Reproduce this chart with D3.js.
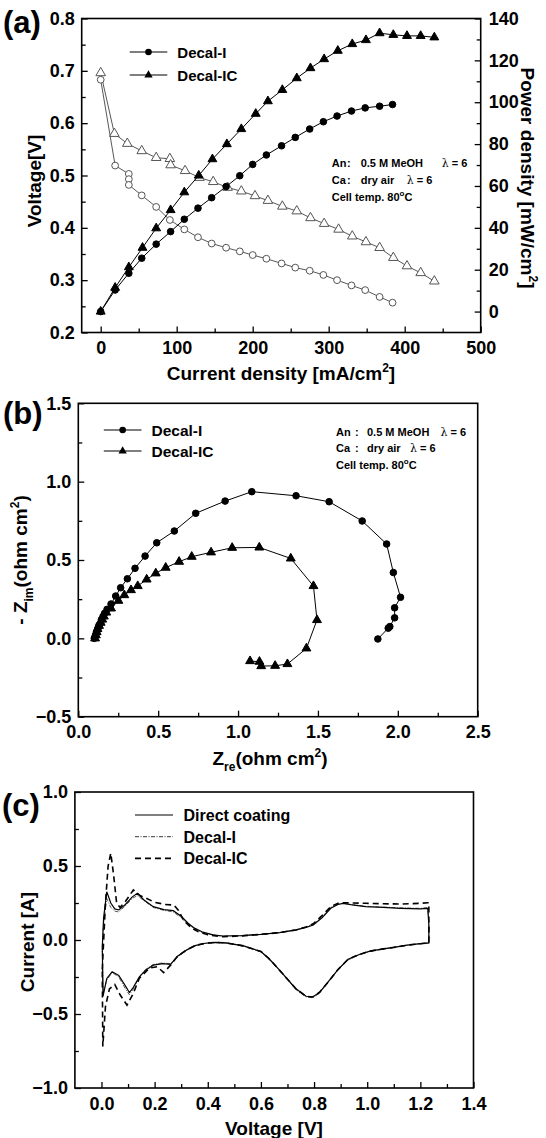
<!DOCTYPE html>
<html>
<head>
<meta charset="utf-8">
<script src="https://cdn.jsdelivr.net/npm/d3@7"></script>
<style>
  body { margin: 0; background: #fff; }
  svg { display: block; }
</style>
</head>
<body>
<div id="fig"></div>
<script>
// ---------- (a) polarization data ----------
const icCurrent = [0, 19, 37, 55, 73, 92, 110, 129, 147, 166, 185, 204, 220, 239, 258, 276, 294, 312, 331, 349, 367, 385, 403, 421, 439];
const icPower = [0, 11.4, 21.2, 30.5, 39.8, 48.5, 57, 65, 72.8, 80, 87.2, 94.5, 100.5, 105.9, 111.5, 116.3, 120.6, 124.6, 127.8, 129.7, 133, 132.2, 131.7, 131.7, 131];
const icVoltCurrent = [0, 18, 35, 54, 73, 91, 92, 111, 130, 148, 167, 185, 203, 220, 239, 258, 276, 294, 313, 331, 349, 367, 385, 403, 421, 439];
const icVoltage = [0.696, 0.580, 0.561, 0.547, 0.534, 0.532, 0.520, 0.509, 0.496, 0.488, 0.477, 0.470, 0.461, 0.452, 0.441, 0.432, 0.419, 0.408, 0.397, 0.384, 0.373, 0.362, 0.343, 0.327, 0.314, 0.298];

const diCurrent = [0, 19, 37, 54, 73, 92, 110, 128, 146, 165, 183, 200, 218, 238, 256, 275, 293, 311, 330, 348, 367, 384];
const diPower = [0, 10.3, 18.3, 25.5, 32.2, 38.2, 44.1, 49.4, 54.4, 59.7, 64.9, 70.3, 74.8, 79.2, 83.2, 87.2, 90.7, 93.4, 95.8, 97.3, 98.1, 98.9];
const diVoltCurrent = [0, 19, 37, 37, 37, 54, 73, 91, 110, 128, 146, 165, 183, 200, 218, 238, 256, 275, 293, 311, 330, 348, 367, 384];
const diVoltage = [0.683, 0.519, 0.503, 0.493, 0.482, 0.462, 0.440, 0.415, 0.397, 0.382, 0.370, 0.362, 0.355, 0.348, 0.341, 0.332, 0.324, 0.318, 0.310, 0.300, 0.290, 0.281, 0.268, 0.257];

// ---------- (b) impedance data ----------
const diZre = [0.100, 0.105, 0.110, 0.115, 0.120, 0.125, 0.130, 0.140, 0.145, 0.155, 0.165, 0.180, 0.205, 0.234, 0.265, 0.307, 0.355, 0.418, 0.491, 0.601, 0.735, 0.919, 1.086, 1.363, 1.570, 1.777, 1.930, 1.972, 2.017, 1.980, 1.980, 1.950, 1.940, 1.875];
const diZim = [0.000, 0.010, 0.025, 0.040, 0.055, 0.070, 0.085, 0.100, 0.120, 0.140, 0.160, 0.185, 0.219, 0.270, 0.323, 0.380, 0.447, 0.525, 0.610, 0.685, 0.798, 0.876, 0.936, 0.910, 0.872, 0.749, 0.602, 0.420, 0.262, 0.195, 0.131, 0.075, 0.065, -0.004];
const icZre = [0.105, 0.110, 0.115, 0.120, 0.130, 0.140, 0.150, 0.160, 0.175, 0.205, 0.251, 0.288, 0.330, 0.372, 0.428, 0.485, 0.547, 0.631, 0.710, 0.831, 0.963, 1.133, 1.330, 1.472, 1.494, 1.428, 1.309, 1.232, 1.145, 1.134, 1.075];
const icZim = [0.000, 0.020, 0.040, 0.060, 0.080, 0.100, 0.120, 0.140, 0.165, 0.191, 0.240, 0.276, 0.308, 0.334, 0.376, 0.415, 0.451, 0.489, 0.521, 0.549, 0.578, 0.580, 0.510, 0.334, 0.117, -0.064, -0.164, -0.175, -0.177, -0.149, -0.145];

// ---------- (c) cyclic voltammetry data ----------
const cvUpV = [0.003, 0.008, 0.02, 0.035, 0.05, 0.065, 0.09, 0.115, 0.135, 0.16, 0.195, 0.235, 0.27, 0.3, 0.326, 0.35, 0.378, 0.42, 0.457, 0.53, 0.6, 0.67, 0.732, 0.77, 0.797, 0.83, 0.863, 0.89, 0.909, 0.95, 0.994, 1.06, 1.125, 1.2, 1.228];
const cvDownV = [1.232, 1.232, 1.2, 1.15, 1.1, 1.06, 1.01, 0.97, 0.928, 0.89, 0.85, 0.82, 0.795, 0.77, 0.732, 0.7, 0.666, 0.63, 0.6, 0.535, 0.47, 0.43, 0.39, 0.352, 0.32, 0.286, 0.26, 0.23, 0.195, 0.165, 0.142, 0.12, 0.105, 0.09, 0.065, 0.04, 0.02, 0.006, 0.003];
const directUpI = [-0.05, 0.15, 0.326, 0.25, 0.21, 0.203, 0.24, 0.29, 0.315, 0.27, 0.225, 0.205, 0.198, 0.16, 0.113, 0.08, 0.056, 0.035, 0.027, 0.03, 0.038, 0.05, 0.068, 0.085, 0.101, 0.15, 0.214, 0.24, 0.248, 0.235, 0.225, 0.22, 0.214, 0.21, 0.214];
const directDownI = [0.1, -0.02, -0.025, -0.035, -0.05, -0.06, -0.075, -0.098, -0.13, -0.2, -0.29, -0.355, -0.385, -0.38, -0.33, -0.265, -0.195, -0.125, -0.078, -0.04, -0.02, -0.016, -0.022, -0.038, -0.068, -0.11, -0.165, -0.16, -0.17, -0.205, -0.25, -0.32, -0.355, -0.31, -0.24, -0.215, -0.26, -0.38, -0.05];
const decalIUpI = [-0.05, 0.12, 0.28, 0.22, 0.195, 0.19, 0.23, 0.28, 0.30, 0.265, 0.22, 0.2, 0.19, 0.15, 0.105, 0.075, 0.052, 0.033, 0.026, 0.03, 0.038, 0.05, 0.068, 0.088, 0.105, 0.155, 0.22, 0.242, 0.248, 0.238, 0.228, 0.222, 0.218, 0.214, 0.22];
const decalIDownI = [0.1, -0.02, -0.025, -0.035, -0.05, -0.062, -0.078, -0.1, -0.135, -0.2, -0.29, -0.36, -0.39, -0.385, -0.335, -0.27, -0.2, -0.13, -0.08, -0.042, -0.022, -0.018, -0.024, -0.04, -0.07, -0.115, -0.16, -0.155, -0.165, -0.2, -0.25, -0.33, -0.37, -0.33, -0.25, -0.22, -0.27, -0.36, -0.05];
const icUpV = [0.003, 0.015, 0.025, 0.035, 0.045, 0.057, 0.07, 0.09, 0.12, 0.145, 0.168, 0.2, 0.24, 0.273, 0.29, 0.31, 0.34, 0.365, 0.4, 0.457, 0.53, 0.6, 0.67, 0.732, 0.77, 0.797, 0.83, 0.863, 0.89, 0.909, 0.95, 0.994, 1.06, 1.125, 1.2, 1.228];
const icUpI = [-0.2, 0.25, 0.5, 0.586, 0.45, 0.25, 0.22, 0.26, 0.338, 0.3, 0.282, 0.255, 0.24, 0.236, 0.2, 0.13, 0.08, 0.056, 0.035, 0.022, 0.028, 0.038, 0.05, 0.068, 0.088, 0.11, 0.165, 0.225, 0.248, 0.252, 0.25, 0.248, 0.245, 0.243, 0.248, 0.252];
const icDownV = [1.232, 1.232, 1.2, 1.15, 1.1, 1.06, 1.01, 0.97, 0.928, 0.89, 0.85, 0.82, 0.795, 0.77, 0.732, 0.7, 0.666, 0.63, 0.6, 0.535, 0.47, 0.43, 0.39, 0.352, 0.32, 0.286, 0.26, 0.234, 0.21, 0.18, 0.142, 0.12, 0.096, 0.07, 0.05, 0.03, 0.015, 0.005, 0.003];
const icDownI = [0.252, -0.02, -0.025, -0.035, -0.05, -0.06, -0.075, -0.098, -0.13, -0.2, -0.29, -0.355, -0.385, -0.38, -0.33, -0.265, -0.195, -0.125, -0.078, -0.04, -0.02, -0.016, -0.022, -0.038, -0.068, -0.11, -0.17, -0.22, -0.18, -0.19, -0.26, -0.36, -0.44, -0.37, -0.30, -0.33, -0.45, -0.72, -0.2];

// ---------- tick values ----------
const aXTicks = [0, 100, 200, 300, 400, 500];
const aXMinor = [50, 150, 250, 350, 450];
const aYTicks = [0.2, 0.3, 0.4, 0.5, 0.6, 0.7, 0.8];
const aYMinor = [0.25, 0.35, 0.45, 0.55, 0.65, 0.75];
const aY2Ticks = [0, 20, 40, 60, 80, 100, 120, 140];
const aY2Minor = [10, 30, 50, 70, 90, 110, 130];
const bXTicks = [0, 0.5, 1.0, 1.5, 2.0, 2.5];
const bXMinor = [0.25, 0.75, 1.25, 1.75, 2.25];
const bYTicks = [-0.5, 0, 0.5, 1.0, 1.5];
const bYMinor = [-0.25, 0.25, 0.75, 1.25];
const cXTicks = [0, 0.2, 0.4, 0.6, 0.8, 1.0, 1.2, 1.4];
const cXMinor = [0.1, 0.3, 0.5, 0.7, 0.9, 1.1, 1.3];
const cYTicks = [-1.0, -0.5, 0, 0.5, 1.0];
const cYMinor = [-0.75, -0.25, 0.25, 0.75];

const FONT = "'Liberation Sans', Arial, Helvetica, sans-serif";

const svg = d3.select("#fig").append("svg")
  .attr("width", 546)
  .attr("height", 1138)
  .style("font-family", FONT);

// frame + ticks for one panel, returns scales
function makePanel(box, xDom, yDom, xt, xm, yt, ym, fmtX) {
  const x = d3.scaleLinear().domain(xDom).range([box.left, box.right]);
  const y = d3.scaleLinear().domain(yDom).range([box.bottom, box.top]);

  const style = g => {
    g.select(".domain").remove();
    g.selectAll("line").attr("stroke", "#000").attr("stroke-width", 1.3);
    g.selectAll("text").attr("font-size", 18).attr("font-weight", "bold")
      .attr("font-family", FONT).attr("fill", "#000");
  };

  svg.append("g").attr("transform", `translate(0,${box.bottom})`)
    .call(d3.axisBottom(x).tickValues(xt).tickFormat(fmtX).tickSize(-6).tickPadding(9))
    .call(style);
  svg.append("g").attr("transform", `translate(0,${box.bottom})`)
    .call(d3.axisBottom(x).tickValues(xm).tickFormat("").tickSize(-4))
    .call(style);
  svg.append("g").attr("transform", `translate(${box.left},0)`)
    .call(d3.axisLeft(y).tickValues(yt).tickFormat(d3.format(".1f")).tickSize(-6).tickPadding(7))
    .call(style);
  svg.append("g").attr("transform", `translate(${box.left},0)`)
    .call(d3.axisLeft(y).tickValues(ym).tickFormat("").tickSize(-4))
    .call(style);

  svg.append("rect")
    .attr("x", box.left).attr("y", box.top)
    .attr("width", box.right - box.left).attr("height", box.bottom - box.top)
    .attr("fill", "none").attr("stroke", "#000").attr("stroke-width", 1.6);

  return {x, y, style};
}

function panelLabel(txt, px, py) {
  svg.append("text").attr("x", px).attr("y", py)
    .attr("font-size", 31).attr("font-weight", "bold").text(txt);
}

const tri = d3.symbol().type(d3.symbolTriangle);

function drawLine(xs, ys, x, y, color, width, dash) {
  const pts = xs.map((v, i) => [x(v), y(ys[i])]);
  svg.append("path")
    .attr("d", d3.line()(pts))
    .attr("fill", "none")
    .attr("stroke", color)
    .attr("stroke-width", width)
    .attr("stroke-dasharray", dash || null);
}

function drawCircles(xs, ys, x, y, fill, stroke, r) {
  svg.append("g").selectAll("circle")
    .data(xs.map((v, i) => [v, ys[i]]))
    .enter().append("circle")
      .attr("cx", d => x(d[0]))
      .attr("cy", d => y(d[1]))
      .attr("r", r)
      .attr("fill", fill)
      .attr("stroke", stroke)
      .attr("stroke-width", 1);
}

function drawTriangles(xs, ys, x, y, fill, stroke, size) {
  svg.append("g").selectAll("path")
    .data(xs.map((v, i) => [v, ys[i]]))
    .enter().append("path")
      .attr("d", tri.size(size)())
      .attr("transform", d => `translate(${x(d[0])},${y(d[1])})`)
      .attr("fill", fill)
      .attr("stroke", stroke)
      .attr("stroke-width", 1);
}

function legendRow(x0, x1, yy, txt, marker, fs) {
  svg.append("line").attr("x1", x0).attr("x2", x1).attr("y1", yy).attr("y2", yy)
    .attr("stroke", "#000").attr("stroke-width", 1.1);
  const mx = (x0 + x1) / 2;
  if (marker === "circle") {
    svg.append("circle").attr("cx", mx).attr("cy", yy).attr("r", 3.3).attr("fill", "#000");
  } else {
    svg.append("path").attr("d", tri.size(30)()).attr("transform", `translate(${mx},${yy})`).attr("fill", "#000");
  }
  svg.append("text").attr("x", x1 + 10).attr("y", yy + 5.5)
    .attr("font-size", fs).attr("font-weight", "bold").text(txt);
}

function conditions(cx, colX, valX, lamAn, lamCa, y0, dy) {
  const g = svg.append("g").attr("font-size", 11).attr("font-weight", "bold");
  const rows = [["An", "0.5 M  MeOH", lamAn], ["Ca", "dry air", lamCa]];
  rows.forEach((r, i) => {
    const yy = y0 + i * dy;
    g.append("text").attr("x", cx).attr("y", yy).text(r[0]);
    g.append("text").attr("x", colX).attr("y", yy).text(":");
    g.append("text").attr("x", valX).attr("y", yy).text(r[1]);
    const t = g.append("text").attr("x", r[2]).attr("y", yy);
    t.append("tspan").attr("font-weight", "normal").attr("font-family", "'DejaVu Serif', serif").text("\u03bb");
    t.append("tspan").text(" = 6");
  });
  const t3 = g.append("text").attr("x", cx).attr("y", y0 + 2 * dy).text("Cell temp. 80");
  t3.append("tspan").attr("dy", -5).attr("font-size", 8).text("o");
  t3.append("tspan").attr("dy", 5).text("C");
}

// ================= (a) =================
const boxA = {left: 81.7, right: 480.7, top: 18.5, bottom: 332.5};
const A = makePanel(boxA, [-25, 500], [0.2, 0.8], aXTicks, aXMinor, aYTicks, aYMinor, d3.format("d"));
const yP = d3.scaleLinear().domain([-10, 140]).range([boxA.bottom, boxA.top]);
svg.append("g").attr("transform", `translate(${boxA.right},0)`)
  .call(d3.axisRight(yP).tickValues(aY2Ticks).tickFormat(d3.format("d")).tickSize(-6).tickPadding(8))
  .call(A.style);
svg.append("g").attr("transform", `translate(${boxA.right},0)`)
  .call(d3.axisRight(yP).tickValues(aY2Minor).tickFormat("").tickSize(-4))
  .call(A.style);

drawLine(diVoltCurrent, diVoltage, A.x, A.y, "#444", 0.9);
drawLine(icVoltCurrent, icVoltage, A.x, A.y, "#444", 0.9);
drawCircles(diVoltCurrent, diVoltage, A.x, A.y, "#fff", "#555", 3.4);
drawTriangles(icVoltCurrent, icVoltage, A.x, A.y, "#fff", "#555", 40);
drawLine(diCurrent, diPower, A.x, yP, "#000", 1);
drawLine(icCurrent, icPower, A.x, yP, "#000", 1);
drawCircles(diCurrent, diPower, A.x, yP, "#000", "#000", 3.3);
drawTriangles(icCurrent, icPower, A.x, yP, "#000", "#000", 34);

legendRow(129.7, 167.3, 52, "Decal-I", "circle", 15);
legendRow(129.7, 167.3, 75, "Decal-IC", "triangle", 15);
conditions(331.7, 347, 360.7, 441.7, 406.7, 167, 17);
panelLabel("(a)", 3, 33);

const xtA = svg.append("text").attr("x", 281).attr("y", 380).attr("text-anchor", "middle")
  .attr("font-size", 19).attr("font-weight", "bold").text("Current density [mA/cm");
xtA.append("tspan").attr("dy", -8).attr("font-size", 12).text("2");
xtA.append("tspan").attr("dy", 8).text("]");

svg.append("text").attr("transform", "translate(41,181) rotate(-90)").attr("text-anchor", "middle")
  .attr("font-size", 19).attr("font-weight", "bold").text("Voltage[V]");

const ytA2 = svg.append("text").attr("transform", "translate(521,178) rotate(90)").attr("text-anchor", "middle")
  .attr("font-size", 19).attr("font-weight", "bold").text("Power density [mW/cm");
ytA2.append("tspan").attr("dy", -8).attr("font-size", 12).text("2");
ytA2.append("tspan").attr("dy", 8).text("]");

// ================= (b) =================
const boxB = {left: 78.3, right: 477.7, top: 403.3, bottom: 716.7};
const B = makePanel(boxB, [0, 2.5], [-0.5, 1.5], bXTicks, bXMinor, bYTicks, bYMinor, d3.format(".1f"));

drawLine(diZre, diZim, B.x, B.y, "#000", 1);
drawLine(icZre, icZim, B.x, B.y, "#000", 1);
drawCircles(diZre, diZim, B.x, B.y, "#000", "#000", 3.3);
drawTriangles(icZre, icZim, B.x, B.y, "#000", "#000", 34);

legendRow(103.8, 141.5, 430, "Decal-I", "circle", 15.5);
legendRow(103.8, 141.5, 451, "Decal-IC", "triangle", 15.5);
conditions(336, 355, 367, 440.5, 410, 435.5, 16.7);
panelLabel("(b)", 3, 424);

const xtB = svg.append("text").attr("x", 270).attr("y", 765).attr("text-anchor", "middle")
  .attr("font-size", 19).attr("font-weight", "bold").text("Z");
xtB.append("tspan").attr("dy", 6).attr("font-size", 12).text("re");
xtB.append("tspan").attr("dy", -6).text("(ohm cm");
xtB.append("tspan").attr("dy", -8).attr("font-size", 12).text("2");
xtB.append("tspan").attr("dy", 8).text(")");

const ytB = svg.append("text").attr("transform", "translate(27,560) rotate(-90)").attr("text-anchor", "middle")
  .attr("font-size", 19).attr("font-weight", "bold").text("- Z");
ytB.append("tspan").attr("dy", 6).attr("font-size", 12).text("im");
ytB.append("tspan").attr("dy", -6).text("(ohm cm");
ytB.append("tspan").attr("dy", -8).attr("font-size", 12).text("2");
ytB.append("tspan").attr("dy", 8).text(")");

// ================= (c) =================
const boxC = {left: 74.9, right: 473.5, top: 792, bottom: 1088};
const C = makePanel(boxC, [-0.1, 1.4], [-1.0, 1.0], cXTicks, cXMinor, cYTicks, cYMinor, d3.format(".1f"));

drawLine(cvUpV.concat(cvDownV), decalIUpI.concat(decalIDownI), C.x, C.y, "#333", 0.8, "4,1.5,1,1.5");
drawLine(cvUpV.concat(cvDownV), directUpI.concat(directDownI), C.x, C.y, "#000", 1.2);
drawLine(icUpV.concat(icDownV), icUpI.concat(icDownI), C.x, C.y, "#000", 1.6, "6,4");

const legC = [["Direct coating", null, 1.2], ["Decal-I", "4,1.5,1,1.5", 0.8], ["Decal-IC", "6,4", 1.6]];
legC.forEach((d, i) => {
  const yy = 815 + i * 21.7;
  svg.append("line").attr("x1", 135).attr("x2", 173).attr("y1", yy).attr("y2", yy)
    .attr("stroke", "#000").attr("stroke-width", d[2]).attr("stroke-dasharray", d[1]);
  svg.append("text").attr("x", 183.5).attr("y", yy + 6)
    .attr("font-size", 16).attr("font-weight", "bold").text(d[0]);
});
panelLabel("(c)", 2, 816);

svg.append("text").attr("x", 274).attr("y", 1135).attr("text-anchor", "middle")
  .attr("font-size", 19).attr("font-weight", "bold").text("Voltage [V]");
svg.append("text").attr("transform", "translate(34,942) rotate(-90)").attr("text-anchor", "middle")
  .attr("font-size", 19).attr("font-weight", "bold").text("Current [A]");
</script>
</body>
</html>
